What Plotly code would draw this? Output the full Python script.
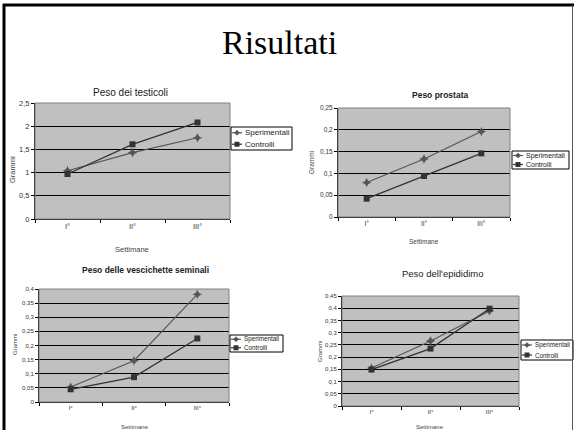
import plotly.graph_objects as go

W, H = 574, 430

weeks = ["I°", "II°", "III°"]
series_names = ["Sperimentali", "Controlli"]

testicoli_sper = [1.04, 1.43, 1.75]
testicoli_ctrl = [0.97, 1.61, 2.08]

prostata_sper = [0.079, 0.133, 0.196]
prostata_ctrl = [0.042, 0.094, 0.146]

vescichette_sper = [0.053, 0.146, 0.381]
vescichette_ctrl = [0.045, 0.088, 0.225]

epididimo_sper = [0.155, 0.266, 0.389]
epididimo_ctrl = [0.149, 0.235, 0.398]

chart_titles = ["Peso dei testicoli", "Peso prostata",
                "Peso delle vescichette seminali", "Peso dell'epididimo"]

SPER_COLOR = "#555555"
CTRL_COLOR = "#333333"


def px(x):
    return x / W


def py(y):
    return 1 - y / H


charts = [
    dict(sper=testicoli_sper, ctrl=testicoli_ctrl, title=chart_titles[0], bold=False, tsize=10,
         box=(35, 230, 103, 219), rng=[0, 2.5], dtick=0.5,
         title_xy=(130, 93), ytitle_xy=(12, 170), xtitle_xy=(132, 249),
         legend_box=(231, 292, 127, 150), lsize=8, fsize=7.5),
    dict(sper=prostata_sper, ctrl=prostata_ctrl, title=chart_titles[1], bold=True, tsize=8.5,
         box=(338, 510, 108, 217), rng=[0, 0.25], dtick=0.05,
         title_xy=(440, 95), ytitle_xy=(312, 163), xtitle_xy=(424, 241),
         legend_box=(512, 569, 151, 169), lsize=7, fsize=6.5),
    dict(sper=vescichette_sper, ctrl=vescichette_ctrl, title=chart_titles[2], bold=True, tsize=8.5,
         box=(39, 229, 289, 402), rng=[0, 0.4], dtick=0.05,
         title_xy=(145, 270), ytitle_xy=(15, 345), xtitle_xy=(135, 427),
         legend_box=(230, 283, 335, 352), lsize=6.3, fsize=6),
    dict(sper=epididimo_sper, ctrl=epididimo_ctrl, title=chart_titles[3], bold=False, tsize=9.5,
         box=(342, 519, 296, 406), rng=[0, 0.45], dtick=0.05,
         title_xy=(443, 273), ytitle_xy=(320, 352), xtitle_xy=(430, 427),
         legend_box=(521, 573, 340, 360), lsize=6.3, fsize=6),
]

fig = go.Figure()
annotations = []
shapes = []
layout = {}

for i, c in enumerate(charts, start=1):
    sfx = "" if i == 1 else str(i)
    xa, ya = "x" + sfx, "y" + sfx
    x0, x1, y0, y1 = c["box"]
    fig.add_trace(go.Scatter(
        x=weeks, y=c["sper"], name=series_names[0], mode="lines+markers",
        xaxis=xa, yaxis=ya, showlegend=False,
        line=dict(color=SPER_COLOR, width=1.1),
        marker=dict(symbol="star-diamond", size=7, color=SPER_COLOR),
    ))
    fig.add_trace(go.Scatter(
        x=weeks, y=c["ctrl"], name=series_names[1], mode="lines+markers",
        xaxis=xa, yaxis=ya, showlegend=False,
        line=dict(color=CTRL_COLOR, width=1.3),
        marker=dict(symbol="square", size=6, color=CTRL_COLOR),
    ))
    layout["xaxis" + sfx] = dict(
        domain=[px(x0), px(x1)], anchor=ya, type="category",
        showline=True, linecolor="black", linewidth=1,
        ticks="outside", ticklen=3, tickcolor="black", tickson="boundaries",
        showgrid=False, tickfont=dict(size=c["fsize"], color="#333", family="Liberation Sans"),
        range=[-0.5, 2.5], fixedrange=True,
    )
    layout["yaxis" + sfx] = dict(
        domain=[py(y1), py(y0)], anchor=xa, range=c["rng"], dtick=c["dtick"],
        showline=True, linecolor="black", linewidth=1,
        ticks="outside", ticklen=3, tickcolor="black",
        showgrid=True, gridcolor="black", gridwidth=1, zeroline=False,
        tickfont=dict(size=c["fsize"], color="#333", family="Liberation Sans"),
        fixedrange=True,
    )
    shapes.append(dict(type="rect", xref=xa + " domain", yref=ya + " domain",
                       x0=0, x1=1, y0=0, y1=1, line=dict(color="#808080", width=1),
                       layer="above"))

    # legend box (drawn manually to match the small original legend)
    lx0, lx1, ly0, ly1 = c["legend_box"]
    shapes.append(dict(type="rect", xref="paper", yref="paper",
                       x0=px(lx0), x1=px(lx1), y0=py(ly1), y1=py(ly0),
                       fillcolor="white", line=dict(color="black", width=1), layer="above"))
    rowh = (ly1 - ly0) / 2
    for k, (nm, col) in enumerate([(series_names[0], SPER_COLOR), (series_names[1], CTRL_COLOR)]):
        ry = ly0 + rowh * (k + 0.5)
        shapes.append(dict(type="line", xref="paper", yref="paper",
                           x0=px(lx0 + 1), x1=px(lx0 + 11), y0=py(ry), y1=py(ry),
                           line=dict(color=col, width=1.2), layer="above"))
        mx = lx0 + 6
        if k == 0:
            s = 2.6
            path = "M {a},{b} L {c},{d} L {e},{f} L {g},{h} Z".format(
                a=px(mx - s), b=py(ry), c=px(mx), d=py(ry - s),
                e=px(mx + s), f=py(ry), g=px(mx), h=py(ry + s))
            shapes.append(dict(type="path", xref="paper", yref="paper", path=path,
                               fillcolor=col, line=dict(color=col, width=0.5), layer="above"))
        else:
            s = 2.5
            shapes.append(dict(type="rect", xref="paper", yref="paper",
                               x0=px(mx - s), x1=px(mx + s), y0=py(ry + s), y1=py(ry - s),
                               fillcolor=col, line=dict(color=col, width=0), layer="above"))
        annotations.append(dict(text=nm, x=px(lx0 + 11.5), y=py(ry), xref="paper", yref="paper",
                                showarrow=False, xanchor="left", yanchor="middle",
                                font=dict(size=c["lsize"], color="#222", family="Liberation Sans")))

    tx, ty = c["title_xy"]
    ttxt = "<b>%s</b>" % c["title"] if c["bold"] else c["title"]
    annotations.append(dict(text=ttxt, x=px(tx), y=py(ty), xref="paper", yref="paper",
                            showarrow=False, xanchor="center", yanchor="middle",
                            font=dict(size=c["tsize"], color="#222", family="Liberation Sans")))
    gx, gy = c["ytitle_xy"]
    annotations.append(dict(text="Grammi", x=px(gx), y=py(gy), xref="paper", yref="paper",
                            showarrow=False, textangle=-90, xanchor="center", yanchor="middle",
                            font=dict(size=c["fsize"], color="#444", family="Liberation Sans")))
    sx, sy = c["xtitle_xy"]
    annotations.append(dict(text="Settimane", x=px(sx), y=py(sy), xref="paper", yref="paper",
                            showarrow=False, xanchor="center", yanchor="middle",
                            font=dict(size=c["fsize"], color="#444", family="Liberation Sans")))

annotations.append(dict(text="Risultati", x=px(279), y=py(43), xref="paper", yref="paper",
                        showarrow=False, xanchor="center", yanchor="middle",
                        font=dict(size=34, color="black", family="Liberation Serif")))

# slide frame
shapes.append(dict(type="line", xref="paper", yref="paper", x0=px(3), x1=px(574),
                   y0=py(5), y1=py(5), line=dict(color="black", width=3)))
shapes.append(dict(type="line", xref="paper", yref="paper", x0=px(4), x1=px(4),
                   y0=py(4), y1=py(430), line=dict(color="black", width=3)))
shapes.append(dict(type="line", xref="paper", yref="paper", x0=px(572.5), x1=px(572.5),
                   y0=py(5), y1=py(430), line=dict(color="#555", width=1)))

fig.update_layout(
    width=W, height=H, margin=dict(l=0, r=0, t=0, b=0, autoexpand=False),
    paper_bgcolor="white", plot_bgcolor="#c0c0c0",
    separators=",.", showlegend=False,
    annotations=annotations, shapes=shapes,
    font=dict(family="Liberation Sans"),
    **layout,
)

fig.write_html("out.html", config={"displayModeBar": False, "staticPlot": True},
               post_script="document.body.style.margin='0';")
